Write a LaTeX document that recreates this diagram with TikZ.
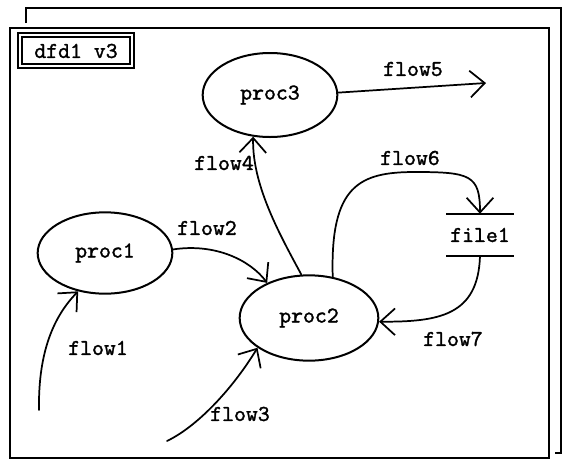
\documentclass[tikz,border=0pt]{standalone}
\usepackage{fontspec}
\usetikzlibrary{arrows.meta,shapes.geometric}
\newfontfamily\dfdfont{lmmono10-regular.otf}[FakeBold=1.4]
\newcommand{\lblfont}{\dfdfont\fontsize{17pt}{19pt}\selectfont}
\tikzset{
  frameline/.style={line width=1.4pt},
  proc/.style={ellipse, draw, line width=1.5pt, inner sep=0pt,
    minimum width=101pt, minimum height=61pt, font=\lblfont},
  lbl/.style={inner sep=0pt, font=\lblfont},
  flowline/.style={line width=1.3pt, line cap=round,
    -{Straight Barb[length=11pt,width=20pt,line width=1.3pt]}},
  plainflow/.style={line width=1.3pt, line cap=round},
  store/.style={inner sep=0pt, minimum width=50pt, minimum height=31.5pt, font=\lblfont}
}
\begin{document}
\begin{tikzpicture}[x=0.75pt,y=-0.75pt]
\useasboundingbox (0,0) rectangle (569,469);
% back frame
\draw[frameline] (26,23) -- (26,8) -- (561,8) -- (561,453) -- (555,453);
% front frame
\draw[frameline, fill=white] (10,28) rectangle (549,458);
% title box
\draw[frameline] (18,33) rectangle (134,68);
\draw[frameline] (22,37) rectangle (130,64);
\node[lbl] (title) at (76,51) {dfd1 v3};
% processes
\node[proc] (p1) at (105,253) {proc1};
\node[proc, minimum width=104pt, minimum height=64pt] (p2) at (309,318) {proc2};
\node[proc, minimum height=63pt] (p3) at (270,95) {proc3};
% data store
\node[store] (f) at (480,235) {file1};
\draw[frameline] (f.north west) -- (f.north east);
\draw[frameline] (f.south west) -- (f.south east);
% free ends
\coordinate (c1) at (39,410);
\coordinate (c3) at (167,441);
\coordinate (c5) at (486,83);
% flows
\draw[flowline] (c1) .. controls (38,350) and (55,315) .. (p1.-125);
\draw[flowline] (p1.3) .. controls (215,243) and (250,260) .. (p2.140);
\draw[flowline] (c3) .. controls (200,425) and (235,385) .. (p2.-150);
\draw[flowline] (p2.100) .. controls (280,235) and (252,185) .. (p3.-112);
\draw[flowline] (p3.2) -- (c5);
\draw[plainflow] (p2.60) .. controls (330,185) and (360,172) .. (415,172) coordinate (top6);
\draw[flowline] (top6) .. controls (470,172) and (480,175) .. (f.north);
\draw[flowline] (f.south) .. controls (478,315) and (440,322) .. (p2.-3);
% labels
\node[lbl] (l1) at (98,348) {flow1};
\node[lbl] (l2) at (207,228) {flow2};
\node[lbl] (l3) at (240,414) {flow3};
\node[lbl] (l4) at (224,163) {flow4};
\node[lbl] (l5) at (413,69) {flow5};
\node[lbl] (l6) at (410,158) {flow6};
\node[lbl] (l7) at (453,339) {flow7};
\end{tikzpicture}
\end{document}
